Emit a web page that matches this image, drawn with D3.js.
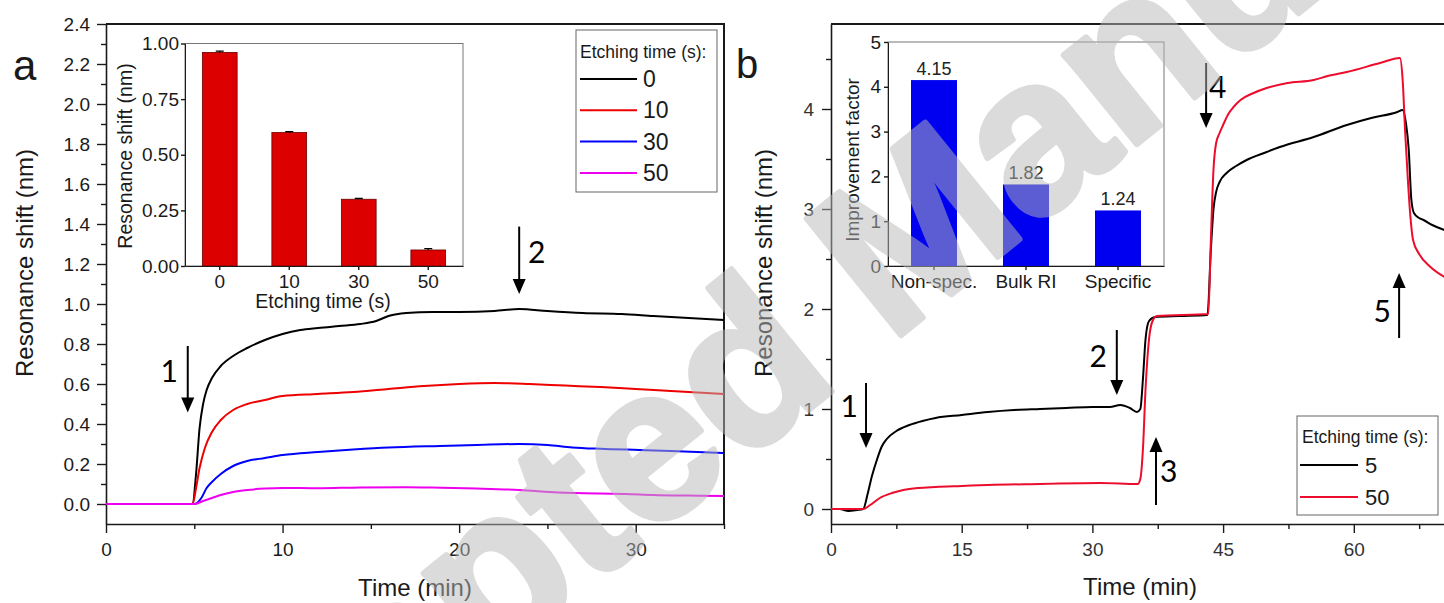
<!DOCTYPE html>
<html>
<head>
<meta charset="utf-8">
<script src="https://cdn.jsdelivr.net/npm/d3@7"></script>
<style>
  body { margin: 0; background: #fff; }
  svg { display: block; font-family: "Liberation Sans", Arial, sans-serif; }
</style>
</head>
<body>
<svg id="chart" width="1444" height="603"></svg>
<script>
// ---- data ----
// panel a: [time (min), resonance shift (nm)] per etching time
var a0 = [[0,0],[4.9,0],[5.1,0.15],[5.3,0.38],[5.5,0.5],[5.7,0.57],[6,0.63],[6.5,0.69],[7.2,0.74],[8,0.78],[9,0.82],[10,0.85],[11,0.87],[12,0.88],[13.2,0.89],[14.4,0.9],[15.3,0.915],[16,0.94],[17,0.955],[18.5,0.96],[20,0.96],[22,0.965],[23.4,0.975],[25,0.965],[27,0.955],[29.2,0.95],[31,0.94],[33,0.93],[35,0.92]]
var a10 = [[0,0],[4.9,0],[5.1,0.08],[5.3,0.18],[5.6,0.28],[6,0.36],[6.5,0.42],[7.2,0.47],[8,0.5],[9,0.52],[10,0.54],[12,0.55],[14,0.56],[16,0.575],[18,0.59],[20,0.6],[22,0.605],[24,0.6],[26,0.592],[28,0.585],[30,0.575],[32,0.565],[35,0.55]]
var a30 = [[0,0],[5,0],[5.4,0.03],[5.7,0.08],[6,0.11],[6.5,0.15],[7.2,0.19],[8,0.215],[9,0.23],[10,0.245],[12,0.26],[14,0.272],[16,0.282],[18.9,0.29],[21,0.295],[23.4,0.3],[25,0.295],[26.4,0.283],[28,0.276],[30.2,0.27],[32,0.265],[35,0.255]]
var a50 = [[0,0],[5,0],[5.5,0.015],[6,0.03],[6.5,0.045],[7.2,0.06],[8,0.07],[9,0.077],[10,0.08],[12,0.079],[14.4,0.083],[17,0.084],[19,0.081],[21,0.077],[23.4,0.07],[25.6,0.058],[28,0.052],[29.4,0.05],[31,0.045],[33,0.042],[35,0.04]]
var seriesA = [a0, a10, a30, a50]
var legendA = ["0", "10", "30", "50"]
var colorsA = ["#000000", "#ee0000", "#0000ff", "#ee00ee"]

// inset a: bar heights per etching time
var insetCatsA = ["0", "10", "30", "50"]
var insetValsA = [0.96, 0.60, 0.30, 0.072]
var insetErrA = [0.006, 0.004, 0.004, 0.006]

// panel b: [time (min), resonance shift (nm)]
var b5 = [[0,0],[1,0.0],[2,-0.02],[3,-0.01],[3.7,0],[4.2,0.15],[4.7,0.33],[5.3,0.5],[5.8,0.62],[6.4,0.7],[7.5,0.78],[9,0.84],[10.5,0.88],[12,0.91],[15,0.94],[18,0.97],[21,0.99],[24,1.0],[27,1.01],[30,1.02],[32,1.02],[33.2,1.04],[34.3,1.01],[35.1,0.97],[35.5,1.0],[35.8,1.3],[36.1,1.7],[36.5,1.88],[37.2,1.92],[40,1.93],[43.2,1.94],[43.6,2.6],[43.9,3.0],[44.2,3.17],[44.6,3.27],[45.4,3.36],[46.5,3.43],[47.7,3.49],[50,3.57],[51.5,3.62],[55.4,3.72],[59.2,3.84],[62,3.91],[65,3.97],[65.6,3.99],[66,3.85],[66.3,3.6],[66.6,3.1],[66.9,2.96],[67.5,2.91],[68,2.89],[69,2.84],[70.4,2.79],[72,2.75]]
var b50 = [[0,0],[3.7,0],[4.5,0.04],[5.6,0.11],[7,0.16],[8.3,0.19],[10,0.21],[12,0.22],[15,0.23],[18,0.24],[24,0.25],[30.9,0.26],[35.2,0.25],[35.5,0.3],[35.8,0.6],[36.1,1.2],[36.5,1.7],[36.9,1.88],[37.4,1.93],[43.3,1.95],[43.6,2.7],[43.9,3.4],[44.2,3.66],[44.6,3.76],[45,3.84],[45.6,3.95],[46.2,4.02],[47,4.09],[48.5,4.16],[50,4.21],[52.4,4.26],[55.4,4.29],[57,4.33],[59.2,4.37],[63,4.46],[65.3,4.51],[65.6,4.3],[65.9,3.76],[66.2,3.3],[66.5,2.92],[66.8,2.69],[67.5,2.55],[68.8,2.42],[70.4,2.32],[72,2.25]]
var seriesB = [b5, b50]
var legendB = ["5", "50"]
var colorsB = ["#000000", "#ec0c2c"]

// inset b: improvement factors
var insetCatsB = ["Non-spec.", "Bulk RI", "Specific"]
var insetValsB = [4.15, 1.82, 1.24]

// injection arrows: [label, time, from, to]
var arrowsA = [["1", 4.63, 0.79, 0.457], ["2", 23.4, 1.387, 1.05]]
var arrowsB = [["1", 4.02, 1.26, 0.61], ["2", 32.8, 1.79, 1.14], ["3", 37.3, 0.04, 0.72], ["4", 43.05, 4.46, 3.81], ["5", 65.2, 1.71, 2.36]]

var svg = d3.select("#chart")
svg.append("rect").attr("width", 1444).attr("height", 603).attr("fill", "#fff")

var ink = "#1a1a1a"

function styleAxis(g, size) {
    g.attr("font-family", null).attr("font-size", null)
    g.selectAll("text").attr("font-size", size).attr("fill", ink)
    g.selectAll("line").attr("stroke", ink).attr("stroke-width", 1.4)
    g.select(".domain").attr("stroke", ink).attr("stroke-width", 1.6)
}
function minor(g) {
    g.attr("font-family", null)
    g.select(".domain").remove()
    g.selectAll("line").attr("stroke", ink).attr("stroke-width", 1.4)
}

function arrows(g, list, x, y) {
    list.forEach(function(d) {
        var x0 = x(d[1]), y0 = y(d[2]), y1 = y(d[3])
        var dir = y1 > y0 ? 1 : -1
        g.append("line").attr("x1", x0).attr("x2", x0).attr("y1", y0).attr("y2", y1 - dir * 12)
            .attr("stroke", "#000").attr("stroke-width", 2)
        g.append("path").attr("fill", "#000")
            .attr("d", "M" + x0 + "," + y1 + "L" + (x0 - 6.5) + "," + (y1 - dir * 15) + "L" + (x0 + 6.5) + "," + (y1 - dir * 15) + "Z")
    })
}

// ---------------- panel a ----------------
var xA = d3.scaleLinear().domain([0, 35]).range([106, 724])
var yA = d3.scaleLinear().domain([-0.1, 2.4]).range([524, 24])
var gA = svg.append("g")

gA.append("g").attr("transform", "translate(0,524)")
    .call(d3.axisBottom(xA).tickValues([5, 15, 25, 35]).tickSize(5).tickFormat("")).call(minor)
gA.append("g").attr("transform", "translate(0,524)")
    .call(d3.axisBottom(xA).tickValues([0, 10, 20, 30]).tickSize(9).tickSizeOuter(0).tickPadding(10))
    .call(styleAxis, 19)
gA.append("g").attr("transform", "translate(106,0)")
    .call(d3.axisLeft(yA).tickValues(d3.range(0.1, 2.4, 0.2)).tickSize(5).tickFormat("")).call(minor)
gA.append("g").attr("transform", "translate(106,0)")
    .call(d3.axisLeft(yA).tickValues(d3.range(0, 2.41, 0.2)).tickSize(9).tickSizeOuter(0).tickPadding(7).tickFormat(d3.format(".1f")))
    .call(styleAxis, 19)
gA.append("path").attr("fill", "none").attr("stroke", ink).attr("stroke-width", 2)
    .attr("d", "M106,24H724V524")

var lineA = d3.line().x(function(d) { return xA(d[0]) }).y(function(d) { return yA(d[1]) }).curve(d3.curveMonotoneX)
gA.selectAll(".curve").data(seriesA).enter().append("path")
    .attr("fill", "none").attr("stroke-width", 2)
    .attr("stroke", function(d, i) { return colorsA[i] })
    .attr("d", lineA)

arrows(gA, arrowsA, xA, yA)
gA.append("text").attr("x", 178).attr("y", 382).attr("text-anchor", "end").attr("font-family", "Lato").attr("font-size", 30).text("1")
gA.append("text").attr("x", 528).attr("y", 263).attr("font-family", "Lato").attr("font-size", 30).text("2")

gA.append("text").attr("transform", "translate(25,263) rotate(-90)").attr("dy", "0.35em")
    .attr("text-anchor", "middle").attr("font-size", 24).attr("fill", ink).text("Resonance shift (nm)")
gA.append("text").attr("x", 415).attr("y", 596).attr("text-anchor", "middle")
    .attr("font-size", 24).attr("fill", ink).text("Time (min)")
gA.append("text").attr("x", 13).attr("y", 80).attr("font-size", 42).attr("fill", ink).text("a")

// legend a
var legA = gA.append("g")
legA.append("rect").attr("x", 576).attr("y", 30).attr("width", 141).attr("height", 162)
    .attr("fill", "#fff").attr("stroke", "#666").attr("stroke-width", 1)
legA.append("text").attr("x", 580).attr("y", 58).attr("font-size", 17.5).attr("fill", ink).text("Etching time (s):")
legendA.forEach(function(lab, i) {
    var yy = 79 + i * 31.3
    legA.append("line").attr("x1", 580).attr("x2", 637).attr("y1", yy).attr("y2", yy)
        .attr("stroke", colorsA[i]).attr("stroke-width", 2)
    legA.append("text").attr("x", 643).attr("y", yy + 8).attr("font-size", 23).attr("fill", ink).text(lab)
})

// inset a
var xInA = d3.scaleBand().domain(insetCatsA).range([185, 463]).paddingInner(0.5).paddingOuter(0.25)
var yInA = d3.scaleLinear().domain([0, 1]).range([266, 43.5])
var inA = gA.append("g")
inA.append("rect").attr("x", 185).attr("y", 43.5).attr("width", 278).attr("height", 222.5)
    .attr("fill", "#fff").attr("stroke", "#777").attr("stroke-width", 1)
inA.selectAll(".bar").data(insetValsA).enter().append("rect")
    .attr("x", function(d, i) { return xInA(insetCatsA[i]) })
    .attr("y", function(d) { return yInA(d) })
    .attr("width", xInA.bandwidth())
    .attr("height", function(d) { return yInA(0) - yInA(d) })
    .attr("fill", "#dd0000").attr("stroke", "#6a0000").attr("stroke-width", 0.8)
insetValsA.forEach(function(v, i) {
    var cx = xInA(insetCatsA[i]) + xInA.bandwidth() / 2
    inA.append("path").attr("fill", "none").attr("stroke", "#000").attr("stroke-width", 1.2)
        .attr("d", "M" + (cx - 4) + "," + yInA(v + insetErrA[i]) + "H" + (cx + 4) + "M" + cx + "," + yInA(v + insetErrA[i]) + "V" + yInA(v))
})
inA.append("g").attr("transform", "translate(0,266)")
    .call(d3.axisBottom(xInA).tickSize(4).tickSizeOuter(0).tickPadding(5)).call(styleAxis, 19)
inA.append("g").attr("transform", "translate(185,0)")
    .call(d3.axisLeft(yInA).tickValues([0, 0.25, 0.5, 0.75, 1]).tickSize(4).tickSizeOuter(0).tickPadding(2).tickFormat(d3.format(".2f")))
    .call(styleAxis, 19)
inA.selectAll(".domain").attr("stroke-width", 1)
inA.append("text").attr("transform", "translate(125,156) rotate(-90)").attr("dy", "0.35em")
    .attr("text-anchor", "middle").attr("font-size", 19.5).attr("fill", ink).text("Resonance shift (nm)")
inA.append("text").attr("x", 323).attr("y", 308).attr("text-anchor", "middle")
    .attr("font-size", 19.5).attr("fill", ink).text("Etching time (s)")

// ---------------- panel b ----------------
var xB = d3.scaleLinear().domain([0, 75]).range([831, 831 + 75 * 130.7 / 15])
var yB = d3.scaleLinear().domain([-0.15, 4.85]).range([524, 24])
var gB = svg.append("g")

gB.append("g").attr("transform", "translate(0,524)")
    .call(d3.axisBottom(xB).tickValues([7.5, 22.5, 37.5, 52.5, 67.5]).tickSize(5).tickFormat("")).call(minor)
gB.append("g").attr("transform", "translate(0,524)")
    .call(d3.axisBottom(xB).tickValues([0, 15, 30, 45, 60]).tickSize(9).tickSizeOuter(0).tickPadding(10).tickFormat(d3.format("d")))
    .call(styleAxis, 19)
gB.append("g").attr("transform", "translate(831,0)")
    .call(d3.axisLeft(yB).tickValues([0.5, 1.5, 2.5, 3.5, 4.5]).tickSize(5).tickFormat("")).call(minor)
gB.append("g").attr("transform", "translate(831,0)")
    .call(d3.axisLeft(yB).tickValues([0, 1, 2, 3, 4]).tickSize(9).tickSizeOuter(0).tickPadding(8).tickFormat(d3.format("d")))
    .call(styleAxis, 19)
gB.selectAll("text").attr("fill", "#333")
gB.append("path").attr("fill", "none").attr("stroke", ink).attr("stroke-width", 2)
    .attr("d", "M831,24H1490")

var lineB = d3.line().x(function(d) { return xB(d[0]) }).y(function(d) { return yB(d[1]) }).curve(d3.curveMonotoneX)
gB.selectAll(".curve").data(seriesB).enter().append("path")
    .attr("fill", "none").attr("stroke-width", 2)
    .attr("stroke", function(d, i) { return colorsB[i] })
    .attr("d", lineB)

arrows(gB, arrowsB, xB, yB)
var numB = [[858, 417, "end", "1"], [1107, 367, "end", "2"], [1160, 482, "start", "3"], [1209, 98, "start", "4"], [1391, 322, "end", "5"]]
numB.forEach(function(n) {
    gB.append("text").attr("x", n[0]).attr("y", n[1]).attr("text-anchor", n[2])
        .attr("font-family", "Lato").attr("font-size", 30).attr("fill", "#000").text(n[3])
})

gB.append("text").attr("transform", "translate(764,263) rotate(-90)").attr("dy", "0.35em")
    .attr("text-anchor", "middle").attr("font-size", 24).attr("fill", ink).text("Resonance shift (nm)")
gB.append("text").attr("x", 1140).attr("y", 595).attr("text-anchor", "middle")
    .attr("font-size", 24).attr("fill", ink).text("Time (min)")
gB.append("text").attr("x", 736).attr("y", 78).attr("font-size", 40).attr("fill", ink).text("b")

// legend b
var legB = gB.append("g")
legB.append("rect").attr("x", 1297).attr("y", 416).attr("width", 141).attr("height", 99)
    .attr("fill", "#fff").attr("stroke", "#666").attr("stroke-width", 1)
legB.append("text").attr("x", 1302).attr("y", 443).attr("font-size", 17.5).attr("fill", ink).text("Etching time (s):")
legendB.forEach(function(lab, i) {
    var yy = 465 + i * 32
    legB.append("line").attr("x1", 1300).attr("x2", 1358).attr("y1", yy).attr("y2", yy)
        .attr("stroke", colorsB[i]).attr("stroke-width", 2)
    legB.append("text").attr("x", 1365).attr("y", yy + 8).attr("font-size", 22).attr("fill", ink).text(lab)
})

// inset b
var xInB = d3.scaleBand().domain(insetCatsB).range([888, 1164]).paddingInner(0.5).paddingOuter(0.25)
var yInB = d3.scaleLinear().domain([0, 5]).range([266, 42])
var inB = gB.append("g")
inB.append("rect").attr("x", 888).attr("y", 42).attr("width", 276).attr("height", 224)
    .attr("fill", "#fff").attr("stroke", "#777").attr("stroke-width", 1)
inB.selectAll(".bar").data(insetValsB).enter().append("rect")
    .attr("x", function(d, i) { return xInB(insetCatsB[i]) })
    .attr("y", function(d) { return yInB(d) })
    .attr("width", xInB.bandwidth())
    .attr("height", function(d) { return yInB(0) - yInB(d) })
    .attr("fill", "#0000f0")
inB.selectAll(".val").data(insetValsB).enter().append("text")
    .attr("x", function(d, i) { return xInB(insetCatsB[i]) + xInB.bandwidth() / 2 })
    .attr("y", function(d) { return yInB(d) - 5 })
    .attr("text-anchor", "middle").attr("font-size", 18).attr("fill", "#222")
    .text(function(d) { return d3.format(".2f")(d) })
inB.append("g").attr("transform", "translate(0,266)")
    .call(d3.axisBottom(xInB).tickSize(4).tickSizeOuter(0).tickPadding(5)).call(styleAxis, 19)
inB.append("g").attr("transform", "translate(888,0)")
    .call(d3.axisLeft(yInB).ticks(5).tickSize(4).tickSizeOuter(0).tickPadding(3).tickFormat(d3.format("d")))
    .call(styleAxis, 19)
inB.selectAll(".domain").attr("stroke-width", 1)
inB.append("text").attr("transform", "translate(852,160) rotate(-90)").attr("dy", "0.35em")
    .attr("text-anchor", "middle").attr("font-size", 19).attr("fill", ink).text("Improvement factor")

// watermark over everything
var wm = svg.append("g").attr("opacity", 0.5)
wm.append("text").attr("transform", "translate(80,1000) rotate(-39)")
    .attr("font-size", 218).attr("font-weight", "bold")
    .attr("fill", "#b8b8b8").attr("stroke", "#b8b8b8").attr("stroke-width", 6).attr("stroke-linejoin", "round")
    .text("Accepted Manuscript")
</script>
</body>
</html>
